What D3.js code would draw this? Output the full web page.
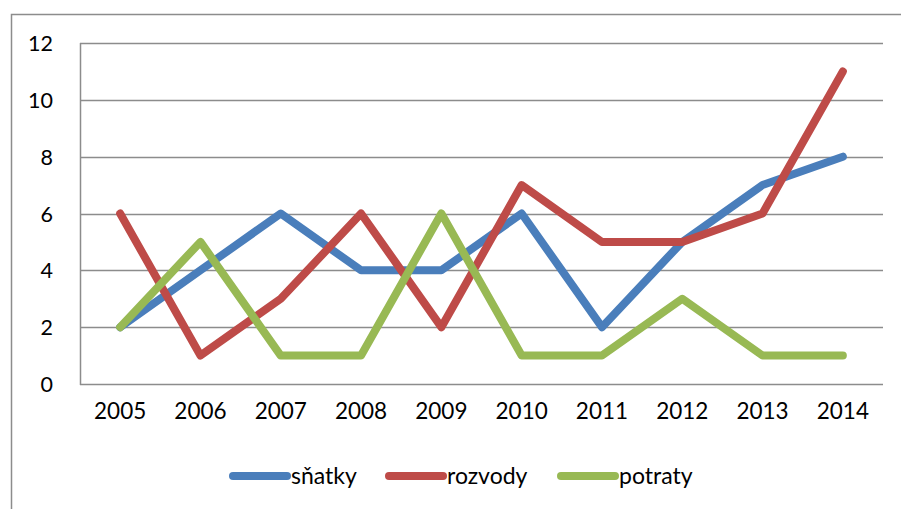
<!DOCTYPE html>
<html><head><meta charset="utf-8">
<script src="https://cdn.jsdelivr.net/npm/d3@7"></script>
<style>body{margin:0;background:#fff}svg{display:block}text{font-family:Lato,"Open Sans",sans-serif;fill:#000}</style>
</head><body><svg id="c" width="901" height="509"></svg>
<script>
const years = ["2005","2006","2007","2008","2009","2010","2011","2012","2013","2014"];
const satky = [2,4,6,4,4,6,2,5,7,8];
const rozvody = [6,1,3,6,2,7,5,5,6,11];
const potraty = [2,5,1,1,6,1,1,3,1,1];
const yTicks = [0,2,4,6,8,10,12];
const seriesNames = ["sňatky","rozvody","potraty"];
const colors = ["#4a7ebb","#be4b48","#98b954"];
const seriesData = [satky, rozvody, potraty];

const svg = d3.select("#c");
// outer frame
svg.append("path").attr("d","M11.5,520V14.5H920").attr("fill","none").attr("stroke","#8c8c8c").attr("stroke-width",1.5);

const x = d3.scaleBand().domain(years).range([80,883]);
const y = d3.scaleLinear().domain([0,12]).range([384,43]);

// gridlines
svg.append("g").selectAll("line").data(yTicks).join("line")
  .attr("x1",80).attr("x2",883).attr("y1",d=>Math.round(y(d))+0.5).attr("y2",d=>Math.round(y(d))+0.5)
  .attr("stroke","#8c8c8c").attr("stroke-width",1.5);
svg.append("line").attr("x1",80.5).attr("x2",80.5).attr("y1",43).attr("y2",385).attr("stroke","#8c8c8c").attr("stroke-width",1.5);

// y labels
const yAxis = d3.axisLeft(y).tickValues(yTicks).tickSize(0).tickPadding(27);
const gy = svg.append("g").attr("transform","translate(80,0)").call(yAxis);
gy.select(".domain").remove();
gy.selectAll("text").attr("font-size",21.5).style("font-family","Lato").attr("dy","0.35em").attr("fill","#000");

// x labels
const xAxis = d3.axisBottom(x).tickSize(0).tickPadding(27);
const gx = svg.append("g").attr("transform","translate(0,384)").call(xAxis);
gx.select(".domain").remove();
gx.selectAll("text").attr("font-size",22.5).style("font-family","Lato").attr("dy","0.35em").attr("fill","#000");

const line = d3.line().x((d,i)=>x(years[i])+x.bandwidth()/2).y(d=>y(d));
seriesData.forEach((s,k)=>{
  svg.append("path").attr("d",line(s)).attr("fill","none").attr("stroke",colors[k])
    .attr("stroke-width",8).attr("stroke-linecap","round").attr("stroke-linejoin","round");
});

// legend
const legX = [233, 389, 561];
seriesNames.forEach((n,k)=>{
  svg.append("line").attr("x1",legX[k]).attr("x2",legX[k]+54).attr("y1",476).attr("y2",476)
    .attr("stroke",colors[k]).attr("stroke-width",8).attr("stroke-linecap","round");
  svg.append("text").attr("x",legX[k]+58).attr("y",476).attr("dy","0.35em").attr("font-size",23).text(n);
});
</script></body></html>
